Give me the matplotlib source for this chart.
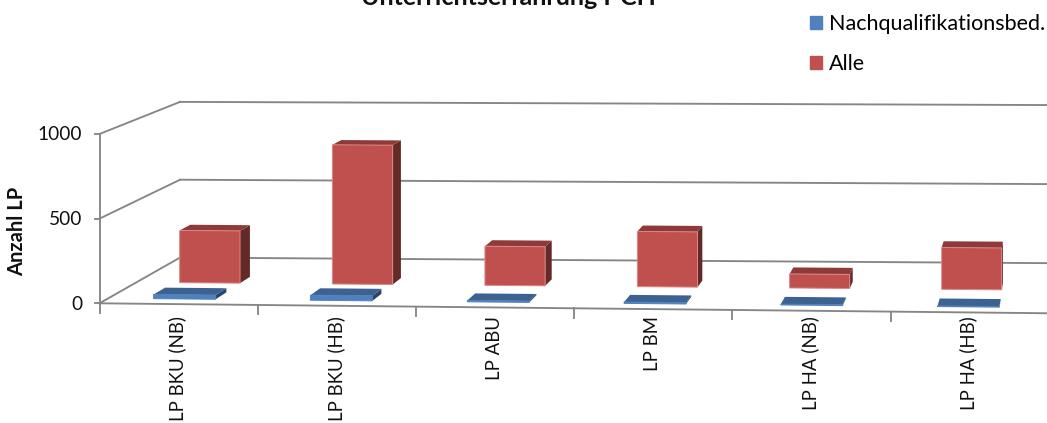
import numpy as np
import matplotlib
matplotlib.use("Agg")
import matplotlib.pyplot as plt
from matplotlib.patches import Patch

plt.rcParams["font.family"] = ["Lato", "DejaVu Sans"]

categories = ["LP BKU (NB)", "LP BKU (HB)", "LP ABU", "LP BM", "LP HA (NB)", "LP HA (HB)"]
nachqual = [25, 30, 8, 8, 5, 4]
alle = [320, 850, 238, 335, 85, 252]
y_ticks = [0, 500, 1000]
series_names = ["Nachqualifikationsbed.", "Alle"]

W, H = 1047, 423
X0, CAT_W = 99.5, 158.2
VP = (1100.0, -265.0)
BAR_W = 0.395

BLUE = ("#4F81BD", "#3B6291", "#2A4668")
RED = ("#C0504D", "#8F3A38", "#632A28")
RED_EDGE = "#D68A87"
GRID = "#868686"
LW = 1.35


def project(cat, val, t):
    # category position, value and depth -> canvas position (simple perspective)
    px = X0 + cat * CAT_W
    dx = px - X0
    base = 303.3 + 0.0105 * dx
    top = 134.0 + 0.0065 * dx
    py = base - (base - top) * val / 1000.0
    tt = t * (1 + 0.00008 * dx)
    return px + (VP[0] - px) * tt, py + (VP[1] - py) * tt


def box(ax, cat, val, t0, t1, colors, edge=None):
    l, r = cat - BAR_W / 2, cat + BAR_W / 2
    front = [project(l, 0, t0), project(r, 0, t0), project(r, val, t0), project(l, val, t0)]
    top = [project(l, val, t0), project(r, val, t0), project(r, val, t1), project(l, val, t1)]
    side = [project(r, 0, t0), project(r, 0, t1), project(r, val, t1), project(r, val, t0)]
    ax.fill(*zip(*side), color=colors[2], lw=0, zorder=3)
    ax.fill(*zip(*top), color=colors[1], lw=0, zorder=3)
    ax.fill(*zip(*front), facecolor=colors[0], edgecolor=edge or colors[0], lw=0.7, zorder=3)


fig = plt.figure(figsize=(W / 100, H / 100), dpi=100)
ax = fig.add_axes([0, 0, 1, 1])
ax.set_xlim(0, W)
ax.set_ylim(H, 0)
ax.axis("off")

n = 6.1
back_t = 0.0805
for v in y_ticks:
    # back wall, side wall and tick of each gridline
    xs, ys = zip(project(0, v, back_t), project(n, v, back_t))
    ax.plot(xs, ys, color=GRID, lw=LW, zorder=1)
    xs, ys = zip(project(0, v, 0), project(0, v, back_t))
    ax.plot(xs, ys, color=GRID, lw=LW, zorder=1)
    x, y = project(0, v, 0)
    ax.plot([x - 5, x], [y, y], color=GRID, lw=LW, zorder=1)
    ax.text(x - 17.5, y + 1, str(v), ha="right", va="center", fontsize=13.8, color="#111111")

xs, ys = zip(project(0, 0, 0), project(0, 1000, 0))
ax.plot(xs, ys, color=GRID, lw=LW, zorder=2)
xs, ys = zip(project(0, 0, 0), project(n, 0, 0))
ax.plot(xs, ys, color=GRID, lw=LW, zorder=2)

for i in range(7):
    x, y = project(i, 0, 0)
    ax.plot([x, x], [y, y + 9.5], color=GRID, lw=LW, zorder=2)

for i, name in enumerate(categories):
    c = i + 0.5
    box(ax, c - 0.02, alle[i], 0.037, 0.048, RED, RED_EDGE)
    box(ax, c - 0.015, nachqual[i], 0.009, 0.021, BLUE)
    x, y = project(c, 0, 0)
    ax.text(x - 1, 316, name, rotation=90, ha="center", va="top", fontsize=13.4, color="#111111")

ax.text(17, 231, "Anzahl LP", rotation=90, ha="center", va="center",
        fontsize=14.5, fontweight="bold", color="#111111")
ax.text(508, 5, "Unterrichtserfahrung I-CH", ha="center", va="baseline",
        fontsize=18, fontweight="bold", color="#111111")

handles = [Patch(color=BLUE[0]), Patch(color=RED[0])]
ax.legend(handles, series_names, loc="upper left", bbox_to_anchor=(810 / W, 1 - 14.5 / H),
          frameon=False, fontsize=15.5, handlelength=0.56, handleheight=0.56,
          handletextpad=0.33, labelspacing=0.9, borderpad=0, borderaxespad=0)

fig.savefig("out.png", dpi=100)
